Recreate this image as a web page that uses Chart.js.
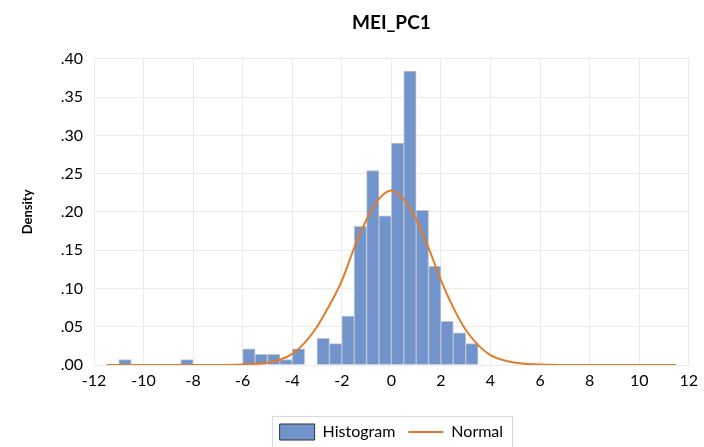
<!DOCTYPE html>
<html>
<head>
<meta charset="utf-8">
<script src="https://cdn.jsdelivr.net/npm/chart.js@4.4.1/dist/chart.umd.min.js"></script>
<style>
    html, body { margin: 0; padding: 0; background: #fff; }
    #wrap { width: 704px; height: 447px; }
</style>
</head>
<body>
<div id="wrap"><canvas id="myChart"></canvas></div>
<script>
// histogram bins (left edge, width 0.5) and their densities
const binWidth = 0.5;
const binLeft = [-11, -8.5, -6, -5.5, -5, -4.5, -4, -3, -2.5, -2, -1.5, -1, -0.5, 0, 0.5, 1, 1.5, 2, 2.5, 3];
const binDensity = [0.007, 0.007, 0.021, 0.014, 0.014, 0.007, 0.021, 0.035, 0.028, 0.064, 0.181, 0.254, 0.195, 0.290, 0.384, 0.202, 0.129, 0.057, 0.042, 0.028];

// fitted normal curve
const normalX = [-11.5, -8, -7, -6, -5.5, -5, -4.5, -4, -3.5, -3, -2.5, -2, -1.5, -1, -0.5, 0, 0.5, 1, 1.5, 2, 2.5, 3, 3.5, 4, 4.5, 5, 5.5, 6, 7, 8, 11.5];
const normalY = [0, 0, 0.0001, 0.0006, 0.0015, 0.003, 0.0068, 0.0145, 0.029, 0.050, 0.078, 0.110, 0.153, 0.190, 0.217, 0.228, 0.216, 0.190, 0.153, 0.111, 0.075, 0.046, 0.026, 0.013, 0.0065, 0.0028, 0.0012, 0.0005, 0.0001, 0, 0];

const xTickMin = -12, xTickMax = 12, xStep = 2;
const yTickMin = 0, yTickMax = 0.4, yStep = 0.05;

const barColor = "#7194cd";
const lineColor = "#e07c2b";
const gridColor = "#ebebeb";
const fontFamily = "Lato, 'Liberation Sans', sans-serif";

// keep title and legend centred over the plot area, and frame the legend
const plotCentre = {
    id: "plotCentre",
    afterLayout(chart) {
        const mid = (chart.chartArea.left + chart.chartArea.right) / 2;
        [chart.titleBlock, chart.legend].forEach(box => {
            const dx = mid - (box.left + box.right) / 2;
            box.left += dx;
            box.right += dx;
        });
        chart.legend.top += 3;
        chart.legend.bottom += 3;
    },
    afterDraw(chart) {
        const boxes = chart.legend.legendHitBoxes;
        if (!boxes || !boxes.length) return;
        let l = Infinity, r = -Infinity, t = Infinity, b = -Infinity;
        boxes.forEach(h => {
            l = Math.min(l, h.left);
            r = Math.max(r, h.left + h.width);
            t = Math.min(t, h.top);
            b = Math.max(b, h.top + h.height);
        });
        const ctx = chart.ctx;
        ctx.save();
        ctx.strokeStyle = "#d9d9d9";
        ctx.lineWidth = 1;
        ctx.strokeRect(Math.round(l - 8) + 0.5, Math.round(t - 8) + 0.5, Math.round(r - l + 17), Math.round(b - t + 16));
        ctx.restore();
    }
};

const ctx = document.getElementById("myChart");
const config = {
    data: {
        datasets: [
            {
                type: "bar",
                label: "Histogram",
                data: binLeft.map((x, i) => ({x: x + binWidth / 2, y: binDensity[i]})),
                backgroundColor: barColor,
                borderColor: "#bfc3cb",
                borderWidth: 1,
                barPercentage: 1,
                categoryPercentage: 1,
                order: 1,
            },
            {
                type: "line",
                label: "Normal",
                data: normalX.map((x, i) => ({x: x, y: normalY[i]})),
                borderColor: lineColor,
                backgroundColor: lineColor,
                borderWidth: 2,
                pointRadius: 0,
                cubicInterpolationMode: "monotone",
                order: 0,
            }
        ]
    },
    options: {
        responsive: true,
        maintainAspectRatio: false,
        animation: false,
        layout: { padding: { left: 0, right: 10, top: 0, bottom: 0 } },
        scales: {
            x: {
                type: "linear",
                offset: false,
                min: xTickMin,
                max: xTickMax,
                ticks: {
                    stepSize: xStep,
                    color: "#000",
                    padding: 6,
                    font: { family: fontFamily, size: 16 },
                },
                grid: { color: gridColor, drawTicks: false, offset: false },
                border: { display: false },
                afterFit(scale) { scale.height = 43; },
            },
            y: {
                min: yTickMin,
                max: yTickMax,
                ticks: {
                    stepSize: yStep,
                    color: "#000",
                    padding: 11,
                    font: { family: fontFamily, size: 16 },
                    callback: v => v.toFixed(2).replace(/^0/, ""),
                },
                grid: { color: gridColor, drawTicks: false },
                border: { display: false },
                title: {
                    display: true,
                    text: "Density",
                    color: "#000",
                    padding: { top: 20, bottom: 4 },
                    font: { family: fontFamily, size: 13, weight: "bold" },
                },
                afterFit(scale) { scale.width = 94; },
            }
        },
        plugins: {
            title: {
                display: true,
                text: "MEI_PC1",
                color: "#000",
                font: { family: fontFamily, size: 19, weight: "bold" },
                padding: { top: 11, bottom: 25 },
            },
            legend: {
                position: "bottom",
                labels: {
                    color: "#000",
                    font: { family: fontFamily, size: 16 },
                    usePointStyle: true,
                    pointStyleWidth: 35,
                    boxHeight: 16,
                    padding: 13,
                    sort: (a, b) => a.datasetIndex - b.datasetIndex,
                    generateLabels(chart) {
                        const items = Chart.defaults.plugins.legend.labels.generateLabels(chart);
                        items.forEach(item => {
                            if (item.datasetIndex === 0) {
                                item.pointStyle = "rect";
                                item.fillStyle = barColor;
                                item.strokeStyle = "#333";
                                item.lineWidth = 1;
                            } else {
                                item.pointStyle = "line";
                                item.strokeStyle = lineColor;
                                item.lineWidth = 2;
                            }
                        });
                        return items;
                    }
                }
            },
            tooltip: { enabled: false }
        }
    },
    plugins: [plotCentre]
};
chart = new Chart(ctx, config);
</script>
</body>
</html>
